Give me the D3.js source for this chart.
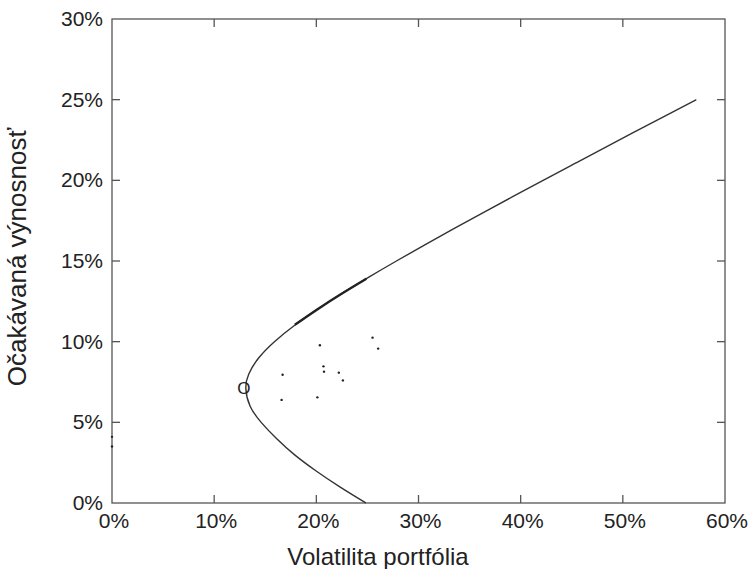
<!DOCTYPE html>
<html>

<head>
  <meta charset="UTF-8">
  <title>Efektívna hranica</title>
  <script src="https://d3js.org/d3.v7.min.js"></script>
  <style>
    body {
      margin: 0;
      background: #fff;
    }

    svg text {
      font-family: "Liberation Sans", Arial, sans-serif;
      fill: #222;
    }
  </style>
</head>

<body>
  <svg></svg>

  <script>
    // efficient frontier: volatility (%) / return (%)
    const frontierVol = [24.85, 22.3, 19.95, 17.85, 16.1, 14.6, 13.52, 13.1, 13.39, 14.37, 15.9, 17.85, 20.09, 22.55, 25.14, 27.84, 30.62, 33.46, 36.34, 39.26, 42.2, 45.17, 48.15, 51.15, 54.16, 57.19];
    const frontierRet = [0, 1, 2, 3, 4, 5, 6, 7.1, 8, 9, 10, 11, 12, 13, 14, 15, 16, 17, 18, 19, 20, 21, 22, 23, 24, 25];

    // overlapping darker segment
    const segVol = [17.9, 20.09, 22.55, 24.9];
    const segRet = [11.05, 12, 13, 13.9];

    // individual assets
    const assetVol = [25.5, 26.05, 20.35, 20.7, 20.75, 22.2, 22.6, 16.7, 16.6, 20.1, 0, 0];
    const assetRet = [10.25, 9.57, 9.78, 8.47, 8.14, 8.08, 7.6, 7.95, 6.39, 6.55, 4.1, 3.5];

    // minimum variance portfolio marker
    const minVar = { vol: 12.9, ret: 7.1, label: "O" };

    const xTicks = [0, 10, 20, 30, 40, 50, 60];
    const yTicks = [0, 5, 10, 15, 20, 25, 30];

    let width = 755,
      height = 569;

    let svg = d3.select("svg")
      .attr("width", width)
      .attr("height", height);

    let x = d3.scaleLinear().domain([0, 60]).range([112, 725]);
    let y = d3.scaleLinear().domain([0, 30]).range([503, 19]);

    let axisColor = "#555";

    // frame
    svg.append("rect")
      .attr("x", x(0))
      .attr("y", y(30))
      .attr("width", x(60) - x(0))
      .attr("height", y(0) - y(30))
      .attr("fill", "none")
      .attr("stroke", axisColor)
      .attr("stroke-width", 1.3);

    // inward ticks on all sides
    let tickLen = 8;
    let g = svg.append("g").attr("stroke", axisColor).attr("stroke-width", 1.3);
    xTicks.slice(1, -1).forEach(t => {
      g.append("line").attr("x1", x(t)).attr("x2", x(t)).attr("y1", y(0)).attr("y2", y(0) - tickLen);
      g.append("line").attr("x1", x(t)).attr("x2", x(t)).attr("y1", y(30)).attr("y2", y(30) + tickLen);
    });
    yTicks.slice(1, -1).forEach(t => {
      g.append("line").attr("x1", x(0)).attr("x2", x(0) + tickLen).attr("y1", y(t)).attr("y2", y(t));
      g.append("line").attr("x1", x(60)).attr("x2", x(60) - tickLen).attr("y1", y(t)).attr("y2", y(t));
    });

    // tick labels
    svg.append("g").selectAll("text")
      .data(xTicks)
      .enter()
      .append("text")
      .attr("x", d => x(d) + 2)
      .attr("y", 528)
      .attr("text-anchor", "middle")
      .attr("font-size", 21)
      .text(d => d + "%");

    svg.append("g").selectAll("text")
      .data(yTicks)
      .enter()
      .append("text")
      .attr("x", 103)
      .attr("y", d => y(d) + 7)
      .attr("text-anchor", "end")
      .attr("font-size", 21)
      .text(d => d + "%");

    // axis titles
    svg.append("text")
      .attr("x", 378)
      .attr("y", 565)
      .attr("text-anchor", "middle")
      .attr("font-size", 24)
      .text("Volatilita portfólia");

    svg.append("text")
      .attr("transform", "translate(26,257) rotate(-90)")
      .attr("text-anchor", "middle")
      .attr("font-size", 26)
      .text("Očakávaná výnosnosť");

    let line = d3.line()
      .x(d => x(d[0]))
      .y(d => y(d[1]))
      .curve(d3.curveNatural);

    svg.append("path")
      .attr("d", line(d3.zip(frontierVol, frontierRet)))
      .attr("fill", "none")
      .attr("stroke", "#333")
      .attr("stroke-width", 1.4);

    svg.append("path")
      .attr("d", line(d3.zip(segVol, segRet)))
      .attr("fill", "none")
      .attr("stroke", "#222")
      .attr("stroke-width", 2.4);

    svg.append("g").selectAll("circle")
      .data(d3.zip(assetVol, assetRet))
      .enter()
      .append("circle")
      .attr("cx", d => x(d[0]))
      .attr("cy", d => y(d[1]))
      .attr("r", 1.2)
      .attr("fill", "#222");

    svg.append("text")
      .attr("x", x(minVar.vol))
      .attr("y", y(minVar.ret) + 6)
      .attr("text-anchor", "middle")
      .attr("font-size", 17)
      .text(minVar.label);
  </script>

</body>

</html>
